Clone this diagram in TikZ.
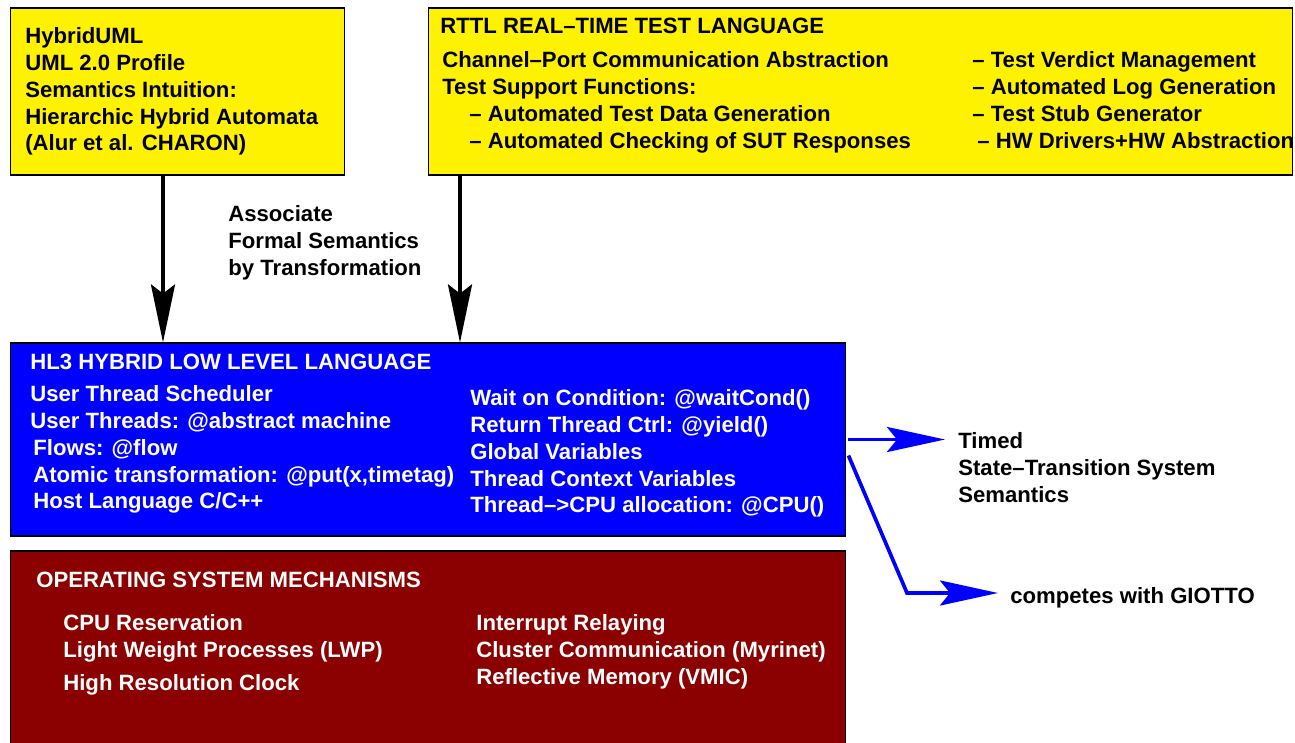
\documentclass[tikz,border=0pt]{standalone}
\usepackage{fontspec}
\setmainfont{Liberation Sans}
\usetikzlibrary{arrows.meta}

\definecolor{hl3blue}{RGB}{0,0,255}
\definecolor{osred}{RGB}{139,0,0}

\begin{document}
\begin{tikzpicture}[x=0.02cm, y=-0.02cm,
	box/.style={draw=black, line width=0.6pt, inner sep=0pt},
	txt/.style={inner sep=0pt, anchor=north west, align=left, font=\bfseries\fontsize{12.6}{15.3}\selectfont},
	wtxt/.style={txt, text=white},
	blkarr/.style={line width=2.1pt, -{Stealth[length=1.16cm, width=0.48cm, inset=0.18cm]}},
	bluearr/.style={draw=hl3blue, line width=2.1pt, -{Stealth[length=1.16cm, width=0.5cm, inset=0.2cm]}}
	]
	\useasboundingbox (0,0) rectangle (1295,743);

	% boxes
	\node[box, fill=yellow, minimum width=6.7cm, minimum height=3.34cm] (hyb) at (177.5,91.5) {};
	\node[box, fill=yellow, minimum width=17.3cm, minimum height=3.34cm] (rttl) at (860.5,91.5) {};
	\node[box, fill=hl3blue, minimum width=16.72cm, minimum height=3.86cm] (hl3) at (428,439.5) {};
	\node[box, fill=osred, minimum width=16.72cm, minimum height=3.86cm] (os) at (428,647.5) {};

	% texts
	\node[txt] (hybtext) at (25,27) {HybridUML\\UML 2.0 Profile\\Semantics Intuition:\\Hierarchic Hybrid Automata\\(Alur et al. CHARON)};
	\node[txt] (rttlhead) at (440,18) {RTTL REAL–TIME TEST LANGUAGE};
	\node[txt] (rttlleft) at (442,51) {Channel–Port Communication Abstraction\\Test Support Functions:\\\hspace*{0.54cm}– Automated Test Data Generation\\\hspace*{0.54cm}– Automated Checking of SUT Responses};
	\node[txt] (rttlright) at (972,51) {– Test Verdict Management\\– Automated Log Generation\\– Test Stub Generator\\\hspace*{0.1cm}– HW Drivers+HW Abstraction};
	\node[txt] (assoc) at (228,205) {Associate\\Formal Semantics\\by Transformation};

	\node[wtxt] (hl3head) at (30,354) {HL3 HYBRID LOW LEVEL LANGUAGE};
	\node[wtxt] (hl3left) at (30,385) {User Thread Scheduler\\User Threads: @abstract machine\\\hspace*{0.06cm}Flows: @flow\\\hspace*{0.06cm}Atomic transformation: @put(x,timetag)\\\hspace*{0.06cm}Host Language C/C++};
	\node[wtxt] (hl3right) at (470,389) {Wait on Condition: @waitCond()\\Return Thread Ctrl: @yield()\\Global Variables\\Thread Context Variables\\Thread–>CPU allocation: @CPU()};

	\node[wtxt] (oshead) at (36,572) {OPERATING SYSTEM MECHANISMS};
	\node[wtxt] (osleft) at (63,614) {CPU Reservation\\Light Weight Processes (LWP)\\[0.12cm]High Resolution Clock};
	\node[wtxt] (osright) at (476,614) {Interrupt Relaying\\Cluster Communication (Myrinet)\\Reflective Memory (VMIC)};

	\node[txt] (timed) at (958,432) {Timed\\State–Transition System\\Semantics};
	\node[txt] (giotto) at (1010,587) {competes with GIOTTO};

	% arrows
	\coordinate (ax) at (163,0);
	\coordinate (bx) at (460,0);
	\coordinate (bend) at (907,593);
	\path[blkarr]
	(hyb.south -| ax) edge (hl3.north -| ax)
	(rttl.south -| bx) edge (hl3.north -| bx);
	\draw[bluearr, shorten >=0.26cm] ([xshift=0.04cm]hl3.east) -- (timed.west |- hl3.east);
	\draw[bluearr, shorten >=0.24cm] ([xshift=0.04cm, yshift=-0.32cm]hl3.east) -- (bend) -- (giotto.west |- bend);
\end{tikzpicture}
\end{document}
